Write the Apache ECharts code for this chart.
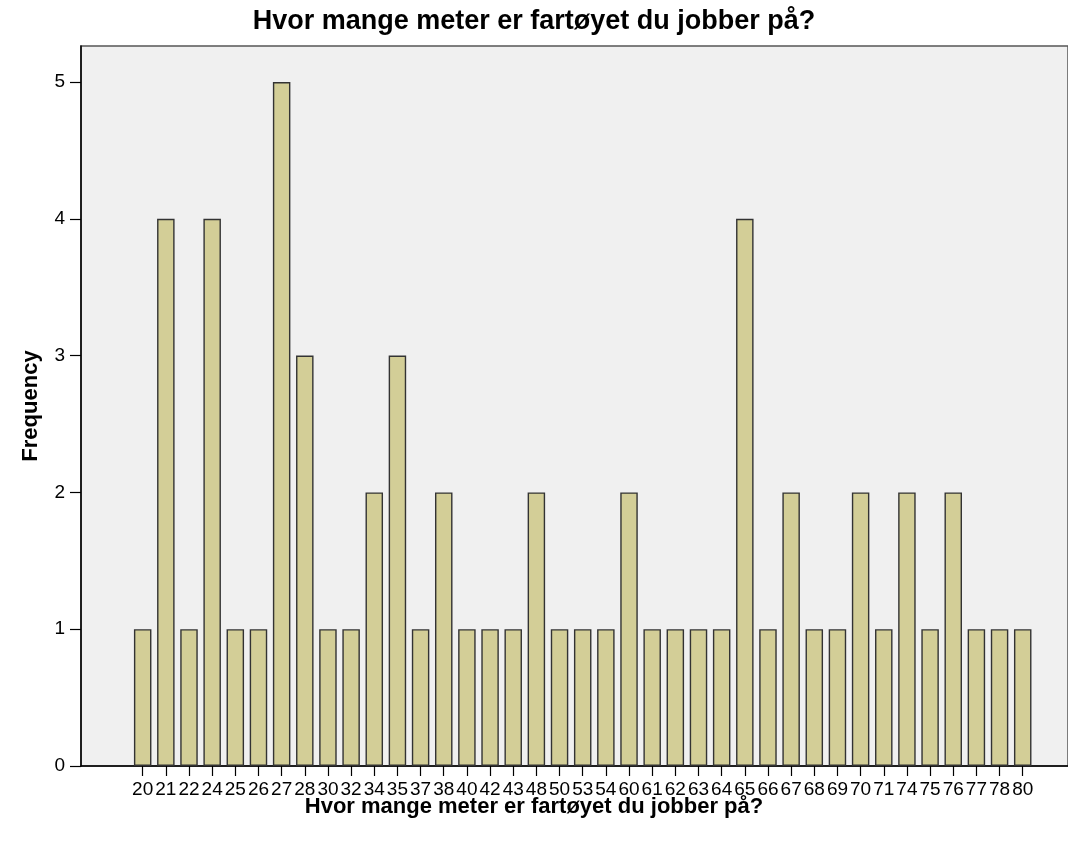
<!DOCTYPE html>
<html>
<head>
<meta charset="utf-8">
<script src="https://cdn.jsdelivr.net/npm/echarts@6/dist/echarts.min.js"></script>
<style>
  html, body { margin: 0; padding: 0; background: #fff; }
  #chart { width: 1068px; height: 848px; }
</style>
</head>
<body>
<div id="chart"></div>
<script>
  // fartøylengde (meter) og antall svar
  const lengths = ['20', '21', '22', '24', '25', '26', '27', '28', '30', '32', '34', '35', '37', '38',
    '40', '42', '43', '48', '50', '53', '54', '60', '61', '62', '63', '64', '65', '66', '67', '68',
    '69', '70', '71', '74', '75', '76', '77', '78', '80']
  const frequency = [1, 4, 1, 4, 1, 1, 5, 3, 1, 1, 2, 3, 1, 2,
    1, 1, 1, 2, 1, 1, 1, 2, 1, 1, 1, 1, 4, 1, 2, 1,
    1, 2, 1, 2, 1, 2, 1, 1, 1]
  const yTicks = [0, 1, 2, 3, 4, 5]

  const titleText = 'Hvor mange meter er fartøyet du jobber på?'
  const xName = 'Hvor mange meter er fartøyet du jobber på?'
  const font = "'Liberation Sans', Arial, Helvetica, sans-serif"
  const yMax = 5.263

  const chart = echarts.init(document.getElementById('chart'))

  const option = {
    animation: false,
    textStyle: { fontFamily: font },
    title: [
      {
        text: titleText,
        left: 'center',
        top: 8,
        padding: 0,
        textStyle: { fontSize: 27, fontWeight: 'bold', color: '#000', fontFamily: font },
      },
      {
        // x-aksens navn, sentrert på siden som i originalen
        text: xName,
        left: 'center',
        top: 796,
        padding: 0,
        textStyle: { fontSize: 22, fontWeight: 'bold', color: '#000', fontFamily: font },
      },
    ],
    grid: [
      // bakgrunn og akser
      { left: 81, top: 46, right: -6, bottom: 82, show: true, backgroundColor: '#F0F0F0',
        borderColor: '#555', borderWidth: 1.5 },
      // søyler
      { left: 131.1, top: 46, right: 33.7, bottom: 82 },
    ],
    xAxis: [
      {
        type: 'value', gridIndex: 0, min: 0, max: 1,
        axisLine: { show: true, lineStyle: { color: '#000', width: 1.5 } },
        axisTick: { show: false },
        axisLabel: { show: false },
        splitLine: { show: false },
      },
      {
        type: 'category', gridIndex: 1, data: lengths,
        axisLine: { show: false },
        axisTick: { show: true, alignWithLabel: true, length: 10, lineStyle: { color: '#000', width: 1.2 } },
        axisLabel: { fontSize: 19, color: '#000', margin: 14, interval: 0, fontFamily: font },
        splitLine: { show: false },
      },
    ],
    yAxis: [
      {
        type: 'value', gridIndex: 0, min: 0, max: yMax, interval: 1,
        name: 'Frequency',
        nameLocation: 'middle',
        nameGap: 39,
        nameTextStyle: { fontSize: 22, fontWeight: 'bold', color: '#000', fontFamily: font },
        axisLine: { show: true, lineStyle: { color: '#000', width: 1.5 } },
        axisTick: { show: true, length: 11, customValues: yTicks, lineStyle: { color: '#000', width: 1.2 } },
        axisLabel: {
          fontSize: 19, color: '#000', margin: 16, fontFamily: font,
          customValues: yTicks,
        },
        splitLine: { show: false },
      },
      {
        type: 'value', gridIndex: 1, min: 0, max: yMax,
        show: false,
      },
    ],
    series: [
      {
        type: 'bar',
        xAxisIndex: 1,
        yAxisIndex: 1,
        data: frequency,
        barWidth: 17.5,
        itemStyle: { color: '#D3CE97', borderColor: '#333', borderWidth: 1.4 },
      },
    ],
  }

  chart.setOption(option)
</script>
</body>
</html>
